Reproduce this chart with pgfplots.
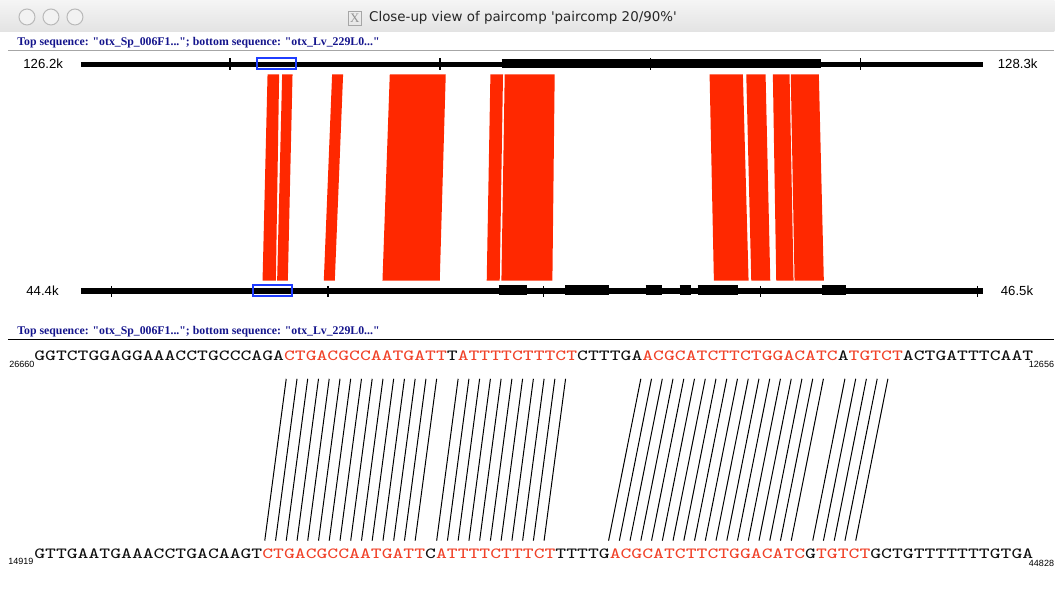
\documentclass[border=0pt]{standalone}
\usepackage{fontspec}
\setmainfont{Liberation Sans}
\newfontfamily\titlefont{DejaVu Sans}
\newfontfamily\labelfont{Liberation Serif}
\usepackage{pgfplots}
\pgfplotsset{compat=1.18}
\definecolor{blockred}{RGB}{255,40,0}
\definecolor{seqred}{RGB}{240,65,40}
\definecolor{seqk}{RGB}{15,15,15}
\definecolor{navy}{RGB}{20,20,140}
\definecolor{boxblue}{RGB}{30,60,255}
\begin{document}
\begin{tikzpicture}
\begin{axis}[
  width=527.5pt, height=304.5pt, scale only axis,
  xmin=0, xmax=1055, ymin=0, ymax=609, y dir=reverse,
  hide axis, clip=false, unbounded coords=jump,
]
\path (axis cs:0,0) rectangle (axis cs:1055,609);
% title bar
\fill[top color=gray!8, bottom color=gray!22] (axis cs:0,0) rectangle (axis cs:1055,32);
\draw[gray!55, fill=gray!10, line width=0.5pt] (axis cs:27,17) circle[radius=4pt];
\draw[gray!55, fill=gray!10, line width=0.5pt] (axis cs:51,17) circle[radius=4pt];
\draw[gray!55, fill=gray!10, line width=0.5pt] (axis cs:75,17) circle[radius=4pt];
\node[draw=gray!70, line width=0.3pt, inner sep=0.8pt, minimum width=6pt, minimum height=7pt, font=\labelfont\fontsize{6.5}{7}\selectfont, text=gray!85] at (axis cs:355,18) {X};
\node[anchor=west, inner sep=0pt, font=\titlefont\fontsize{6.7}{8}\selectfont, text=black!85] at (axis cs:369,18) {Close-up view of paircomp 'paircomp 20/90\%'};
% labels
\node[anchor=base west, inner sep=0pt, font=\labelfont\bfseries\fontsize{5.9}{6}\selectfont, text=navy] at (axis cs:17,46) {Top sequence: "otx\_Sp\_006F1..."; bottom sequence: "otx\_Lv\_229L0..."};
\draw[gray!70, line width=0.6pt] (axis cs:8,50.5) -- (axis cs:1055,50.5);
\node[anchor=base west, inner sep=0pt, font=\labelfont\bfseries\fontsize{5.9}{6}\selectfont, text=navy] at (axis cs:17,334.5) {Top sequence: "otx\_Sp\_006F1..."; bottom sequence: "otx\_Lv\_229L0..."};
\draw[black, line width=0.6pt] (axis cs:8,340) -- (axis cs:1055,340);
% top track
\addplot[black, line width=2.6pt] coordinates {(81,64.3) (984,64.3)};
\addplot[black, line width=4.4pt] coordinates {(502,63.5) (821,63.5)};
\addplot[black, line width=0.8pt] coordinates {(230,58.5) (230,70) (0,nan) (440,58.5) (440,70) (0,nan) (651,58.5) (651,70) (0,nan) (861,58.5) (861,70)};
\addplot[boxblue, line width=1pt] coordinates {(257.5,57.8) (296,57.8) (296,69.3) (257.5,69.3)} -- cycle;
\node[anchor=west, inner sep=0pt, font=\fontsize{6.6}{7}\selectfont] at (axis cs:23,64) {126.2k};
\node[anchor=west, inner sep=0pt, font=\fontsize{6.6}{7}\selectfont] at (axis cs:998,64) {128.3k};
% bottom track
\addplot[black, line width=2.8pt] coordinates {(81,291.4) (984,291.4)};
\addplot[black, line width=4.8pt] coordinates {(499,290.2) (527,290.2) (0,nan) (565.5,290.2) (609.5,290.2) (0,nan) (646,290.2) (662,290.2) (0,nan) (680,290.2) (691,290.2) (0,nan) (698,290.2) (738,290.2) (0,nan) (822,290.2) (846,290.2)};
\addplot[black, line width=0.8pt] coordinates {(111.5,286) (111.5,297) (0,nan) (328,286) (328,297) (0,nan) (544,286) (544,297) (0,nan) (761,286) (761,297) (0,nan) (978,286) (978,297)};
\addplot[boxblue, line width=1pt] coordinates {(253,284.8) (292,284.8) (292,296) (253,296)} -- cycle;
\node[anchor=west, inner sep=0pt, font=\fontsize{6.6}{7}\selectfont] at (axis cs:26,291) {44.4k};
\node[anchor=west, inner sep=0pt, font=\fontsize{6.6}{7}\selectfont] at (axis cs:1001,291) {46.5k};
% red alignment blocks
\addplot[fill=blockred, draw=none] coordinates {(267.7,74.3) (279.3,74.3) (276,280.7) (262.7,280.7)} -- cycle;
\addplot[fill=blockred, draw=none] coordinates {(282.3,74.3) (292.7,74.3) (288,280.7) (277.3,280.7)} -- cycle;
\addplot[fill=blockred, draw=none] coordinates {(332.3,74.3) (343.3,74.3) (335,280.7) (324,280.7)} -- cycle;
\addplot[fill=blockred, draw=none] coordinates {(390,74.3) (446,74.3) (440,280.7) (382.7,280.7)} -- cycle;
\addplot[fill=blockred, draw=none] coordinates {(490.7,74.3) (503.3,74.3) (500,280.7) (487,280.7)} -- cycle;
\addplot[fill=blockred, draw=none] coordinates {(505,74.3) (555,74.3) (552.7,280.7) (501.7,280.7)} -- cycle;
\addplot[fill=blockred, draw=none] coordinates {(710,74.3) (743.3,74.3) (749,280.7) (714.3,280.7)} -- cycle;
\addplot[fill=blockred, draw=none] coordinates {(746.7,74.3) (766,74.3) (770.7,280.7) (751.7,280.7)} -- cycle;
\addplot[fill=blockred, draw=none] coordinates {(773.3,74.3) (790,74.3) (794,280.7) (776.7,280.7)} -- cycle;
\addplot[fill=blockred, draw=none] coordinates {(791.2,74.3) (819.3,74.3) (824.3,280.7) (795,280.7)} -- cycle;
% sequences
\node[anchor=base west, inner sep=0pt, xscale=1.32, font=\ttfamily\fontsize{7.75}{8}\selectfont] at (axis cs:33.8,361)
 {{\color{seqk}GGTCTGGAGGAAACCTGCCCAGA}{\color{seqred}CTGACGCCAATGATT}{\color{seqk}T}{\color{seqred}ATTTTCTTTCT}{\color{seqk}CTTTGA}{\color{seqred}ACGCATCTTCTGGACATC}{\color{seqk}A}{\color{seqred}TGTCT}{\color{seqk}ACTGATTTCAAT}};
\node[anchor=base west, inner sep=0pt, xscale=1.32, font=\ttfamily\fontsize{7.75}{8}\selectfont] at (axis cs:33.8,559)
 {{\color{seqk}GTTGAATGAAACCTGACAAGT}{\color{seqred}CTGACGCCAATGATT}{\color{seqk}C}{\color{seqred}ATTTTCTTTCT}{\color{seqk}TTTTG}{\color{seqred}ACGCATCTTCTGGACATC}{\color{seqk}G}{\color{seqred}TGTCT}{\color{seqk}GCTGTTTTTTTGTGA}};
\node[anchor=base west, inner sep=0pt, font=\fontsize{4.5}{5}\selectfont] at (axis cs:9,368) {26660};
\node[anchor=base east, inner sep=0pt, font=\fontsize{4.5}{5}\selectfont] at (axis cs:1055,368) {12656};
\node[anchor=base west, inner sep=0pt, font=\fontsize{4.5}{5}\selectfont] at (axis cs:8,565) {14919};
\node[anchor=base east, inner sep=0pt, font=\fontsize{4.5}{5}\selectfont] at (axis cs:1055,567) {44828};
% alignment lines between bases
\addplot[black, line width=0.5pt] coordinates {
(286.4,379) (264.9,541) (0,nan) (297.2,379) (275.7,541) (0,nan) (307.9,379) (286.4,541) (0,nan)
(318.7,379) (297.2,541) (0,nan) (329.4,379) (307.9,541) (0,nan) (340.2,379) (318.7,541) (0,nan)
(350.9,379) (329.4,541) (0,nan) (361.7,379) (340.2,541) (0,nan) (372.4,379) (350.9,541) (0,nan)
(383.2,379) (361.7,541) (0,nan) (393.9,379) (372.4,541) (0,nan) (404.7,379) (383.2,541) (0,nan)
(415.4,379) (393.9,541) (0,nan) (426.2,379) (404.7,541) (0,nan) (436.9,379) (415.4,541) (0,nan)
(458.4,379) (436.9,541) (0,nan) (469.2,379) (447.7,541) (0,nan) (479.9,379) (458.4,541) (0,nan)
(490.7,379) (469.2,541) (0,nan) (501.4,379) (479.9,541) (0,nan) (512.2,379) (490.7,541) (0,nan)
(522.9,379) (501.4,541) (0,nan) (533.7,379) (512.2,541) (0,nan) (544.4,379) (522.9,541) (0,nan)
(555.2,379) (533.7,541) (0,nan) (565.9,379) (544.4,541) (0,nan)
(641.2,379) (608.9,541) (0,nan) (651.9,379) (619.7,541) (0,nan) (662.7,379) (630.4,541) (0,nan)
(673.4,379) (641.2,541) (0,nan) (684.2,379) (651.9,541) (0,nan) (694.9,379) (662.7,541) (0,nan)
(705.7,379) (673.4,541) (0,nan) (716.4,379) (684.2,541) (0,nan) (727.2,379) (694.9,541) (0,nan)
(737.9,379) (705.7,541) (0,nan) (748.7,379) (716.4,541) (0,nan) (759.4,379) (727.2,541) (0,nan)
(770.2,379) (737.9,541) (0,nan) (780.9,379) (748.7,541) (0,nan) (791.7,379) (759.4,541) (0,nan)
(802.4,379) (770.2,541) (0,nan) (813.2,379) (780.9,541) (0,nan) (823.9,379) (791.7,541) (0,nan)
(845.4,379) (813.2,541) (0,nan) (856.2,379) (823.9,541) (0,nan) (866.9,379) (834.7,541) (0,nan)
(877.7,379) (845.4,541) (0,nan) (888.4,379) (856.2,541)
};
\end{axis}
\end{tikzpicture}
\end{document}
